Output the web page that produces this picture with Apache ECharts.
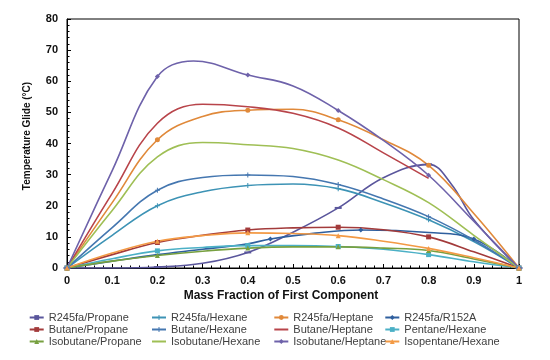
<!DOCTYPE html>
<html><head><meta charset="utf-8">
<script src="https://cdn.jsdelivr.net/npm/echarts@6/dist/echarts.min.js"></script>
<style>html,body{margin:0;padding:0;background:#fff}#c{width:550px;height:360px}</style>
</head><body><div id="c"></div>
<script>
// ---- data ----
const seriesNames = [
  'R245fa/Propane','R245fa/Hexane','R245fa/Heptane','R245fa/R152A',
  'Butane/Propane','Butane/Hexane','Butane/Heptane','Pentane/Hexane',
  'Isobutane/Propane','Isobutane/Hexane','Isobutane/Heptane','Isopentane/Hexane'
];
const xTicks = ['0','0.1','0.2','0.3','0.4','0.5','0.6','0.7','0.8','0.9','1'];

const r245faPropane   = [[0,0],[0.1,0],[0.2,0.3],[0.3,1.5],[0.4,5],[0.5,11.5],[0.6,19.3],[0.7,29],[0.8,33.3],[0.85,27],[0.9,15.5],[1,0]];
const r245faHexane    = [[0,0],[0.1,10.5],[0.2,20],[0.3,24.5],[0.4,26.5],[0.5,27],[0.6,25.5],[0.7,21],[0.8,15.5],[0.9,8.5],[1,0]];
const r245faHeptane   = [[0,0],[0.1,21],[0.2,41.2],[0.3,48.7],[0.4,50.7],[0.5,51],[0.6,47.6],[0.7,41.2],[0.8,33],[0.9,17.5],[1,0]];
const r245faR152a     = [[0,0],[0.1,2.2],[0.2,4.3],[0.3,6],[0.4,7.8],[0.45,9.3],[0.55,11.2],[0.65,12.2],[0.8,11.4],[0.9,9.3],[1,0]];
const butanePropane   = [[0,0],[0.1,4.3],[0.2,8.2],[0.3,10.5],[0.4,12.2],[0.5,12.9],[0.6,13.1],[0.7,12.3],[0.8,10],[0.9,5.2],[1,0]];
const butaneHexane    = [[0,0],[0.1,13],[0.2,25],[0.3,29.1],[0.4,29.9],[0.5,29.4],[0.6,26.8],[0.7,22.2],[0.8,16.5],[0.9,9],[1,0]];
const butaneHeptane   = [[0,0],[0.1,24],[0.2,46.5],[0.3,52.6],[0.4,51.8],[0.5,49.7],[0.6,45],[0.7,37],[0.8,28.8]];
const pentaneHexane   = [[0,0],[0.1,3],[0.2,5.5],[0.3,6.6],[0.4,7.2],[0.5,7.2],[0.6,6.9],[0.7,6],[0.8,4.3],[0.9,2],[1,0]];
const isobutanePropane= [[0,0],[0.1,2.2],[0.2,4],[0.3,5.4],[0.4,6.4],[0.5,6.8],[0.6,6.8],[0.7,6.4],[0.8,5.6],[0.9,2.9],[1,0]];
const isobutaneHexane = [[0,0],[0.1,18.5],[0.2,35.7],[0.3,40.3],[0.4,39.6],[0.5,38.4],[0.6,34.7],[0.7,28.4],[0.8,21],[0.9,10.5],[1,0]];
const isobutaneHeptane= [[0,0],[0.1,31.3],[0.2,61.5],[0.28,66.5],[0.4,62],[0.5,58.5],[0.6,50.6],[0.7,41],[0.8,29.8],[0.9,15],[1,0]];
const isopentaneHexane= [[0,0],[0.1,4.8],[0.2,8.6],[0.3,10.4],[0.4,11.3],[0.5,11.1],[0.6,10.4],[0.7,8.6],[0.8,6.3],[0.9,3.3],[1,0]];

// x positions of the measured (marked) points
const markStd   = [0,0.2,0.4,0.6,0.8,1];
const markR152a = [0,0.45,0.65,0.9,1];

// ---- styling ----
const PLUS = 'path://M4,0h2v4h4v2h-4v4h-2v-4h-4v-2h4z';
const DASH = 'path://M0,0h10v3h-10z';
const cfg = [
  {d:r245faPropane,   c:'#5a569c', s:DASH,      m:markStd},
  {d:r245faHexane,    c:'#3d93b5', s:PLUS,      m:markStd},
  {d:r245faHeptane,   c:'#e0893a', s:'circle',  m:markStd},
  {d:r245faR152a,     c:'#2f5f9e', s:'diamond', m:markR152a},
  {d:butanePropane,   c:'#a33b3b', s:'rect',    m:markStd},
  {d:butaneHexane,    c:'#4577b0', s:PLUS,      m:markStd},
  {d:butaneHeptane,   c:'#b8444a', s:'none',    m:[]},
  {d:pentaneHexane,   c:'#4bb0c6', s:'rect',    m:markStd},
  {d:isobutanePropane,c:'#77a040', s:'triangle',m:markStd},
  {d:isobutaneHexane, c:'#9fbf55', s:'none',    m:[]},
  {d:isobutaneHeptane,c:'#6e62aa', s:'diamond', m:markStd},
  {d:isopentaneHexane,c:'#f39a45', s:'triangle',m:markStd}
];

const FONT = 'Liberation Sans, Arial, sans-serif';
const series = cfg.map((o,i)=>({
  name: seriesNames[i],
  type: 'line',
  smooth: 0.4,
  showAllSymbol: true,
  symbol: o.s,
  symbolSize: o.s===DASH ? [7,2] : 5,
  color: o.c,
  lineStyle: {width: 1.6, color: o.c},
  itemStyle: {color: o.c},
  data: o.d.map(p => o.m.indexOf(p[0])>=0 ? {value:p} : {value:p, symbol:'none'}),
  z: 2
}));

const legendLefts = [28.7, 151, 273.3, 384.3];
const legendItem = (i) => cfg[i].s === 'none'
  ? {name: seriesNames[i], itemStyle: {opacity: 0}}
  : {name: seriesNames[i]};
const legends = [0,1,2,3].map(col => ({
  orient: 'vertical', left: legendLefts[col], top: 311.5, padding: 0,
  itemWidth: 14, itemHeight: 6, itemGap: 0, selectedMode: false,
  data: [legendItem(col), legendItem(col+4), legendItem(col+8)],
  textStyle: {fontSize: 11, color: '#404040', fontFamily: FONT, lineHeight: 12}
}));

const chart = echarts.init(document.getElementById('c'), null, {renderer:'canvas'});
chart.setOption({
  animation: false,
  backgroundColor: '#fff',
  grid: {left: 67, right: 31, top: 19, bottom: 92, show: true, borderColor: '#000', borderWidth: 1, backgroundColor:'transparent'},
  legend: legends,
  xAxis: {
    type: 'value', min: 0, max: 1, interval: 0.1,
    axisLine: {lineStyle: {color: '#000', width: 1}},
    axisTick: {inside: true, length: 4, lineStyle: {color: '#000'}},
    minorTick: {show: true, splitNumber: 5, length: 2.5, lineStyle: {color: '#000'}},
    splitLine: {show: false},
    axisLabel: {margin: 7, color: '#111', fontSize: 11, fontWeight: 'bold', fontFamily: FONT,
      formatter: (v)=> xTicks[Math.round(v*10)]}
  },
  yAxis: {
    type: 'value', min: 0, max: 80, interval: 10,
    axisLine: {show: true, lineStyle: {color: '#000', width: 1}},
    axisTick: {show: true, inside: true, length: 4, lineStyle: {color: '#000'}},
    minorTick: {show: true, splitNumber: 5, length: 2.5, lineStyle: {color: '#000'}},
    splitLine: {show: false},
    axisLabel: {margin: 9, color: '#111', fontSize: 11, fontWeight: 'bold', fontFamily: FONT}
  },
  graphic: [
    {type:'text', x: 281, y: 296, style:{text:'Mass Fraction of First Component', fill:'#111',
      font:'bold 12px Liberation Sans, Arial, sans-serif', align:'center', verticalAlign:'middle'}},
    {type:'text', x: 27, y: 136, rotation: Math.PI/2, style:{text:'Temperature Glide (°C)', fill:'#111',
      font:'bold 10px Liberation Sans, Arial, sans-serif', align:'center', verticalAlign:'middle'}}
  ],
  series: series
});
</script>
</body></html>
